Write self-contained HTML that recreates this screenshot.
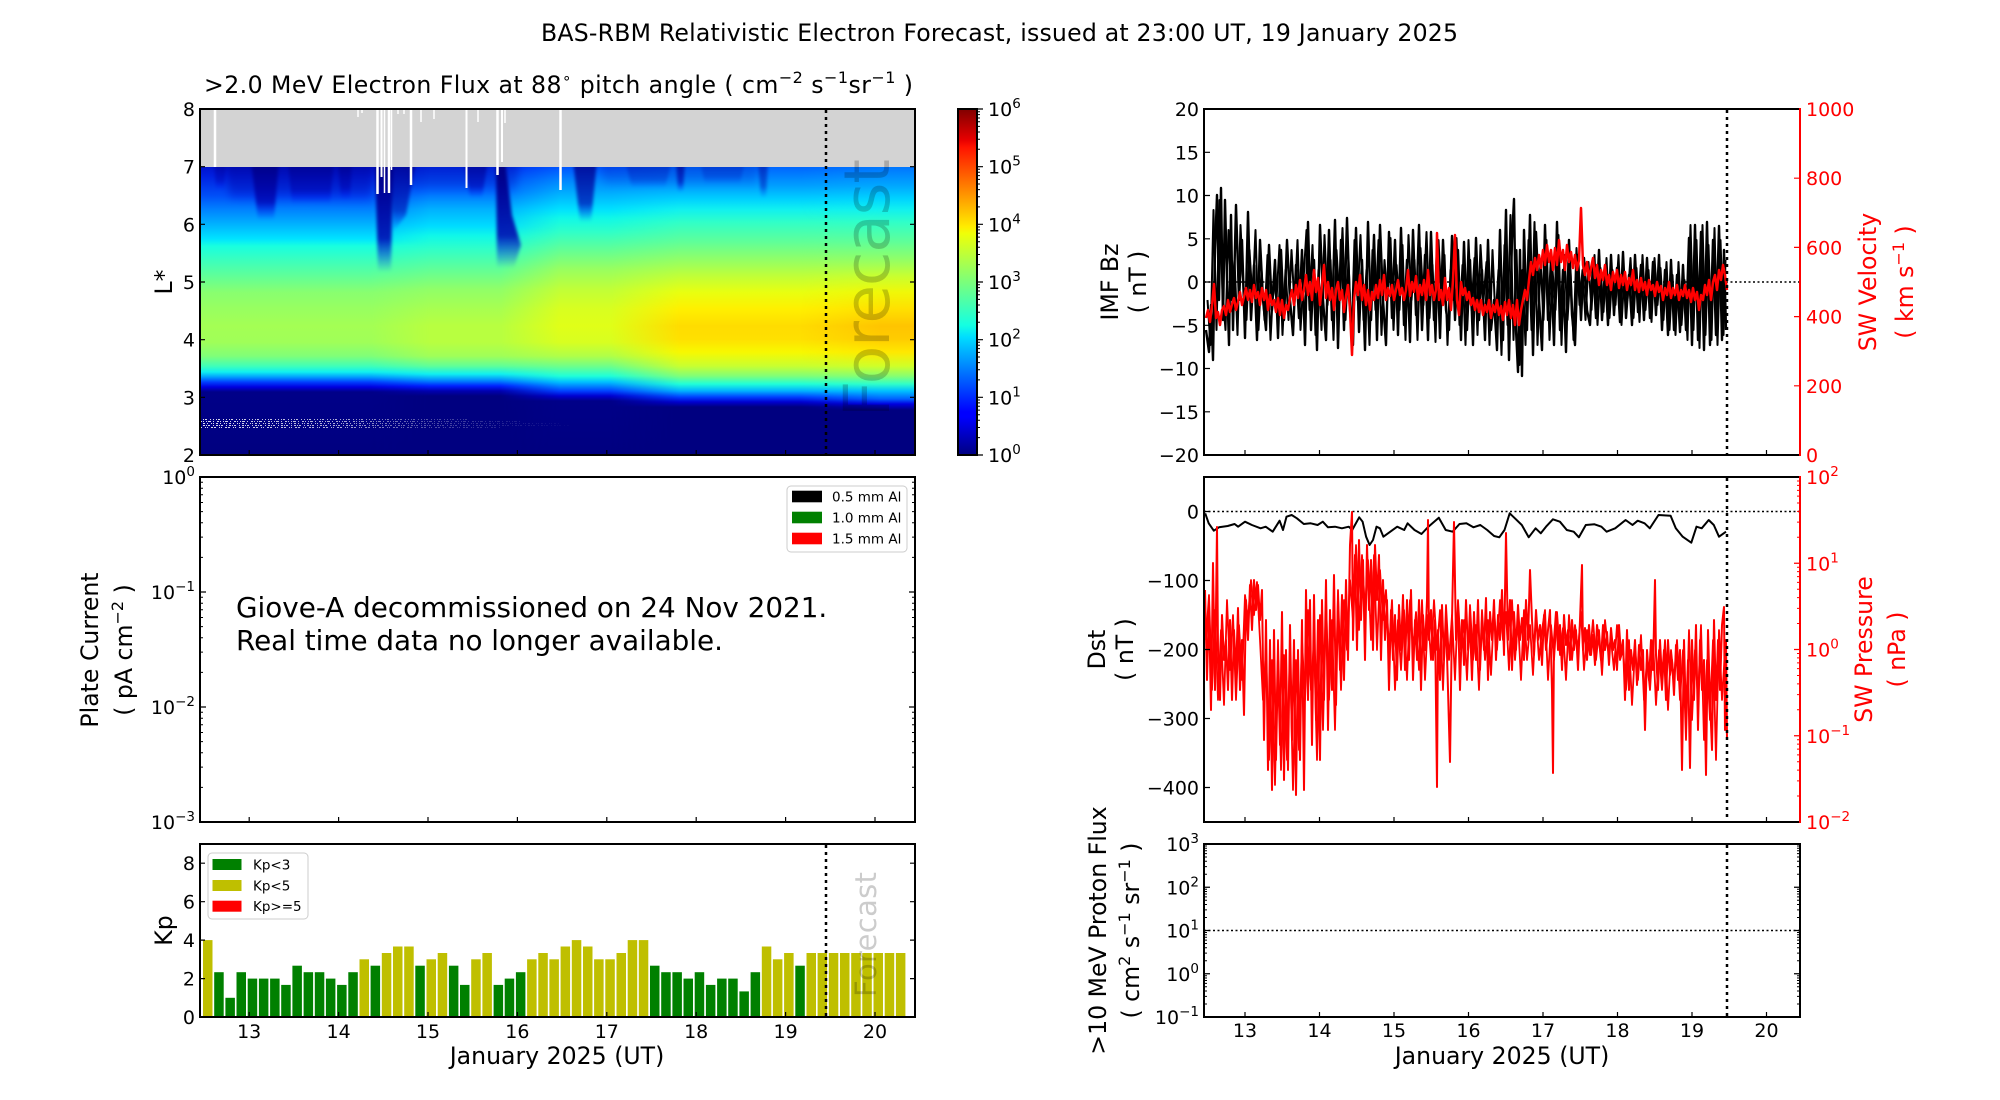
<!DOCTYPE html>
<html><head><meta charset="utf-8"><style>html,body{margin:0;padding:0;background:#fff}svg{display:block}</style></head>
<body>
<svg width="2000" height="1100" viewBox="0 0 2000 1100" xmlns="http://www.w3.org/2000/svg" font-family="DejaVu Sans, sans-serif">
<defs>
<clipPath id="cH"><rect x="200" y="109" width="715" height="346"/></clipPath>
<clipPath id="cBz"><rect x="1204" y="109" width="596" height="346"/></clipPath>
<clipPath id="cDst"><rect x="1204" y="477" width="596" height="345"/></clipPath>
<linearGradient id="pA" gradientUnits="userSpaceOnUse" x1="0" y1="168" x2="0" y2="455">
<stop offset="0" stop-color="#0014d0"/><stop offset="0.0279" stop-color="#0020e0"/><stop offset="0.0976" stop-color="#0050f8"/><stop offset="0.1429" stop-color="#0080ff"/><stop offset="0.2021" stop-color="#00b8ff"/><stop offset="0.2474" stop-color="#00e4ff"/><stop offset="0.2718" stop-color="#18ffe0"/><stop offset="0.3171" stop-color="#38ffc0"/><stop offset="0.3763" stop-color="#60ff98"/><stop offset="0.4321" stop-color="#88ff70"/><stop offset="0.4913" stop-color="#98ff60"/><stop offset="0.5505" stop-color="#a4ff54"/><stop offset="0.6063" stop-color="#a0ff58"/><stop offset="0.655" stop-color="#80ff78"/><stop offset="0.6899" stop-color="#40ffb8"/><stop offset="0.7108" stop-color="#10f0f0"/><stop offset="0.7282" stop-color="#00a0ff"/><stop offset="0.7456" stop-color="#0040ff"/><stop offset="0.7631" stop-color="#0000e0"/><stop offset="0.7805" stop-color="#000088"/><stop offset="1" stop-color="#000080"/>
</linearGradient>
<linearGradient id="pB" gradientUnits="userSpaceOnUse" x1="0" y1="168" x2="0" y2="455">
<stop offset="0" stop-color="#0030f0"/><stop offset="0.0836" stop-color="#0070ff"/><stop offset="0.1429" stop-color="#00b0ff"/><stop offset="0.2021" stop-color="#00dcff"/><stop offset="0.2369" stop-color="#10f8e8"/><stop offset="0.2822" stop-color="#30ffc8"/><stop offset="0.3519" stop-color="#60ff98"/><stop offset="0.4216" stop-color="#90ff68"/><stop offset="0.4913" stop-color="#a8ff50"/><stop offset="0.5505" stop-color="#b8ff40"/><stop offset="0.6063" stop-color="#b8ff40"/><stop offset="0.655" stop-color="#a0ff58"/><stop offset="0.6899" stop-color="#60ff98"/><stop offset="0.7178" stop-color="#10f0f0"/><stop offset="0.7422" stop-color="#0080ff"/><stop offset="0.7596" stop-color="#0020ff"/><stop offset="0.777" stop-color="#0000b0"/><stop offset="0.7944" stop-color="#000080"/><stop offset="1" stop-color="#000080"/>
</linearGradient>
<linearGradient id="pC" gradientUnits="userSpaceOnUse" x1="0" y1="168" x2="0" y2="455">
<stop offset="0" stop-color="#0058ff"/><stop offset="0.0453" stop-color="#0088ff"/><stop offset="0.108" stop-color="#00c0ff"/><stop offset="0.1429" stop-color="#00e0ff"/><stop offset="0.1742" stop-color="#10f8e8"/><stop offset="0.223" stop-color="#30ffc8"/><stop offset="0.2822" stop-color="#60ff98"/><stop offset="0.3519" stop-color="#98ff60"/><stop offset="0.4216" stop-color="#c0ff38"/><stop offset="0.4913" stop-color="#d8ff20"/><stop offset="0.5505" stop-color="#e0ff18"/><stop offset="0.6063" stop-color="#d8ff20"/><stop offset="0.655" stop-color="#b0ff48"/><stop offset="0.6899" stop-color="#70ff88"/><stop offset="0.7247" stop-color="#20ffd8"/><stop offset="0.7456" stop-color="#00c0ff"/><stop offset="0.777" stop-color="#0040ff"/><stop offset="0.7944" stop-color="#0000d0"/><stop offset="0.8118" stop-color="#000088"/><stop offset="1" stop-color="#000080"/>
</linearGradient>
<linearGradient id="pD" gradientUnits="userSpaceOnUse" x1="0" y1="168" x2="0" y2="455">
<stop offset="0" stop-color="#0068ff"/><stop offset="0.0627" stop-color="#00a0ff"/><stop offset="0.108" stop-color="#00d0ff"/><stop offset="0.1429" stop-color="#10f0f0"/><stop offset="0.1882" stop-color="#30ffc8"/><stop offset="0.2578" stop-color="#60ff98"/><stop offset="0.3171" stop-color="#90ff68"/><stop offset="0.3763" stop-color="#c0ff38"/><stop offset="0.4321" stop-color="#e8ff10"/><stop offset="0.4913" stop-color="#fff000"/><stop offset="0.5505" stop-color="#ffdc00"/><stop offset="0.5958" stop-color="#ffe000"/><stop offset="0.6411" stop-color="#f8f800"/><stop offset="0.6899" stop-color="#c8ff30"/><stop offset="0.7247" stop-color="#80ff78"/><stop offset="0.7526" stop-color="#20ffd8"/><stop offset="0.777" stop-color="#00b0ff"/><stop offset="0.7979" stop-color="#0040ff"/><stop offset="0.8153" stop-color="#0000d0"/><stop offset="0.8328" stop-color="#000080"/><stop offset="1" stop-color="#000080"/>
</linearGradient>
<linearGradient id="pE" gradientUnits="userSpaceOnUse" x1="0" y1="168" x2="0" y2="455">
<stop offset="0" stop-color="#0078ff"/><stop offset="0.0627" stop-color="#00a8ff"/><stop offset="0.108" stop-color="#00d4ff"/><stop offset="0.1429" stop-color="#10f0f0"/><stop offset="0.1882" stop-color="#30ffc8"/><stop offset="0.2578" stop-color="#60ff98"/><stop offset="0.3171" stop-color="#90ff68"/><stop offset="0.3763" stop-color="#c8ff30"/><stop offset="0.4321" stop-color="#f0f808"/><stop offset="0.4913" stop-color="#ffe000"/><stop offset="0.5505" stop-color="#ffc400"/><stop offset="0.5958" stop-color="#ffcc00"/><stop offset="0.6411" stop-color="#ffe800"/><stop offset="0.6899" stop-color="#d0ff28"/><stop offset="0.7247" stop-color="#88ff70"/><stop offset="0.7526" stop-color="#30ffc8"/><stop offset="0.777" stop-color="#00c0ff"/><stop offset="0.805" stop-color="#0060ff"/><stop offset="0.8223" stop-color="#0000e0"/><stop offset="0.8432" stop-color="#000080"/><stop offset="1" stop-color="#000080"/>
</linearGradient>
<linearGradient id="fB" gradientUnits="userSpaceOnUse" x1="370" y1="0" x2="430" y2="0"><stop offset="0" stop-color="#000"/><stop offset="1" stop-color="#fff"/></linearGradient>
<linearGradient id="fC" gradientUnits="userSpaceOnUse" x1="500" y1="0" x2="560" y2="0"><stop offset="0" stop-color="#000"/><stop offset="1" stop-color="#fff"/></linearGradient>
<linearGradient id="fD" gradientUnits="userSpaceOnUse" x1="610" y1="0" x2="680" y2="0"><stop offset="0" stop-color="#000"/><stop offset="1" stop-color="#fff"/></linearGradient>
<linearGradient id="fE" gradientUnits="userSpaceOnUse" x1="800" y1="0" x2="880" y2="0"><stop offset="0" stop-color="#000"/><stop offset="1" stop-color="#fff"/></linearGradient>
<linearGradient id="fS" gradientUnits="userSpaceOnUse" x1="200" y1="0" x2="580" y2="0"><stop offset="0" stop-color="#ddd"/><stop offset="0.37" stop-color="#aaa"/><stop offset="0.58" stop-color="#555"/><stop offset="0.8" stop-color="#222"/><stop offset="1" stop-color="#000"/></linearGradient>
<mask id="mB" maskUnits="userSpaceOnUse" x="0" y="0" width="2000" height="1100"><rect x="190" y="100" width="740" height="370" fill="url(#fB)"/></mask>
<mask id="mC" maskUnits="userSpaceOnUse" x="0" y="0" width="2000" height="1100"><rect x="190" y="100" width="740" height="370" fill="url(#fC)"/></mask>
<mask id="mD" maskUnits="userSpaceOnUse" x="0" y="0" width="2000" height="1100"><rect x="190" y="100" width="740" height="370" fill="url(#fD)"/></mask>
<mask id="mE" maskUnits="userSpaceOnUse" x="0" y="0" width="2000" height="1100"><rect x="190" y="100" width="740" height="370" fill="url(#fE)"/></mask>
<mask id="mS" maskUnits="userSpaceOnUse" x="0" y="0" width="2000" height="1100"><rect x="190" y="400" width="400" height="40" fill="url(#fS)"/></mask>
<linearGradient id="sg" x1="0" y1="0" x2="0" y2="1"><stop offset="0" stop-color="#000080"/><stop offset="0.7" stop-color="#0000b0" stop-opacity="0.85"/><stop offset="1" stop-color="#0000ff" stop-opacity="0"/></linearGradient>
<filter id="bl" x="-50%" y="-20%" width="200%" height="140%"><feGaussianBlur stdDeviation="1.6"/></filter>
<filter id="bl2" x="-50%" y="-20%" width="200%" height="140%"><feGaussianBlur stdDeviation="4"/></filter>
<linearGradient id="jet" x1="0" y1="1" x2="0" y2="0">
<stop offset="0" stop-color="#000080"/><stop offset="0.11" stop-color="#0000ff"/><stop offset="0.125" stop-color="#0000ff"/><stop offset="0.34" stop-color="#00dcff"/><stop offset="0.375" stop-color="#14ffe2"/><stop offset="0.5" stop-color="#7bff7b"/><stop offset="0.64" stop-color="#efff08"/><stop offset="0.66" stop-color="#ffec00"/><stop offset="0.89" stop-color="#ff1300"/><stop offset="0.91" stop-color="#e80000"/><stop offset="1" stop-color="#800000"/>
</linearGradient>
<path id="xtL" d="M249.2,0v-5M338.6,0v-5M428,0v-5M517.4,0v-5M606.8,0v-5M696.2,0v-5M785.6,0v-5M875,0v-5"/>
<path id="xtR" d="M1245,0v-5M1319.5,0v-5M1394,0v-5M1468.5,0v-5M1543,0v-5M1617.5,0v-5M1692,0v-5M1766.5,0v-5"/>
<path id="mPl" d="M0,-34.6h3M0,-54.9h3M0,-69.2h3M0,-80.4h3M0,-89.5h3M0,-97.2h3M0,-103.8h3M0,-109.7h3"/>
<path id="mCb" d="M0,-17.4h3M0,-27.5h3M0,-34.7h3M0,-40.3h3M0,-44.9h3M0,-48.7h3M0,-52.1h3M0,-55h3"/>
<path id="mPr" d="M0,-26h3M0,-41.1h3M0,-51.9h3M0,-60.3h3M0,-67.1h3M0,-72.9h3M0,-77.9h3M0,-82.3h3"/>
<path id="mPt" d="M0,-13h3M0,-20.6h3M0,-26h3M0,-30.2h3M0,-33.6h3M0,-36.5h3M0,-39h3M0,-41.3h3"/>
</defs>

<!-- Titles -->
<text x="541" y="41" font-size="23.6" textLength="917">BAS-RBM Relativistic Electron Forecast, issued at 23:00 UT, 19 January 2025</text>
<text x="204" y="93" font-size="23.6" textLength="709">&gt;2.0 MeV Electron Flux at 88<tspan dy="-10" font-size="15">∘</tspan><tspan dy="10"> pitch angle ( cm</tspan><tspan dy="-10" font-size="16">−2</tspan><tspan dy="10"> s</tspan><tspan dy="-10" font-size="16">−1</tspan><tspan dy="10">sr</tspan><tspan dy="-10" font-size="16">−1</tspan><tspan dy="10"> )</tspan></text>

<!-- Heatmap -->
<g clip-path="url(#cH)">
<rect x="200" y="160" width="715" height="295" fill="url(#pA)"/>
<rect x="200" y="160" width="715" height="295" fill="url(#pB)" mask="url(#mB)"/>
<rect x="200" y="160" width="715" height="295" fill="url(#pC)" mask="url(#mC)"/>
<rect x="200" y="160" width="715" height="295" fill="url(#pD)" mask="url(#mD)"/>
<rect x="200" y="160" width="715" height="295" fill="url(#pE)" mask="url(#mE)"/>
<g filter="url(#bl2)" fill="url(#sg)">
<polygon points="225,160 375,160 370,205 230,200" opacity="0.45"/>
<polygon points="405,160 520,160 515,195 410,195" opacity="0.3"/>
<polygon points="600,160 760,160 755,188 605,188" opacity="0.2"/>
</g>
<g filter="url(#bl)" fill="url(#sg)">
<polygon points="251,160 279,160 274,220 258,220" opacity="0.9"/>
<polygon points="288,160 334,160 330,204 292,204" opacity="0.6"/>
<polygon points="338,160 352,160 350,200 341,200" opacity="0.6"/>
<polygon points="214,160 226,160 224,190 216,190" opacity="0.5"/>
<polygon points="375,160 393,160 391,272 378,272"/>
<polygon points="392,160 416,160 406,215 393,232" opacity="0.7"/>
<polygon points="496,160 505,160 512,215 521,245 514,268 497,268"/>
<polygon points="464,160 488,160 482,198 470,198" opacity="0.65"/>
<polygon points="573,160 597,160 591,222 580,222" opacity="0.8"/>
<polygon points="676,160 685,160 683,192 678,192" opacity="0.7"/>
<polygon points="625,160 672,160 665,188 632,188" opacity="0.3"/>
<polygon points="758,160 768,160 766,198 761,198" opacity="0.5"/>
<polygon points="700,160 745,160 740,184 705,184" opacity="0.25"/>
</g>
<rect x="200" y="109" width="715" height="58" fill="#d3d3d3"/>
<g stroke="#fff" stroke-width="1" mask="url(#mS)">
<path d="M200,419.5H470" stroke-dasharray="1 2 1 1 2 3 1 2"/>
<path d="M200,421.5H520" stroke-dasharray="2 1 1 2 1 1 3 2 1 3"/>
<path d="M200,423.5H560" stroke-dasharray="1 2 2 2 1 3 1 1"/>
<path d="M200,425.5H570" stroke-dasharray="1 2 2 1 1 1 2 3"/>
<path d="M200,427.5H500" stroke-dasharray="2 3 1 1 1 3 2 1"/>
</g>
<g stroke="#fff">
<path d="M215,109V167" stroke-width="2.5"/>
<path d="M358,109V117M362,109V113M398,109V114M404,109V114M421,109V122M434,109V119M478,109V122M505,109V123" stroke-width="1.5"/>
<path d="M377.5,109V194M389,109V193M411,109V185M497.5,109V175M560.5,109V190" stroke-width="2.5"/>
<path d="M381.5,109V177M466.5,109V188M502,109V162" stroke-width="2"/>
<path d="M384.5,109V193M391.5,109V170" stroke-width="1.5"/>
</g>
<text transform="translate(889,417) rotate(-90)" font-size="63" fill="#000" fill-opacity="0.2" textLength="258">Forecast</text>
<path d="M826,110V455" stroke="#000" stroke-width="2.5" stroke-dasharray="3 4"/>
</g>
<rect x="200" y="109" width="715" height="346" fill="none" stroke="#000" stroke-width="2"/>
<path d="M200,397.3h5M200,339.7h5M200,282h5M200,224.3h5M200,166.7h5M915,397.3h-5M915,339.7h-5M915,282h-5M915,224.3h-5M915,166.7h-5" stroke="#000" stroke-width="1.2"/>
<use href="#xtL" y="455" stroke="#000" stroke-width="1.2"/>
<g font-size="19" text-anchor="end">
<text x="195" y="116">8</text><text x="195" y="173.7">7</text><text x="195" y="231.3">6</text><text x="195" y="289">5</text><text x="195" y="346.7">4</text><text x="195" y="404.3">3</text><text x="195" y="462">2</text>
</g>
<text transform="translate(172,282) rotate(-90)" text-anchor="middle" font-size="23.6">L*</text>

<!-- Colorbar -->
<rect x="958" y="109" width="19" height="346" fill="url(#jet)" stroke="#000" stroke-width="2"/>
<path d="M977,455h6M977,397.3h6M977,339.7h6M977,282h6M977,224.3h6M977,166.7h6M977,109h6" stroke="#000" stroke-width="1.2"/>
<g stroke="#000" stroke-width="1">
<use href="#mCb" x="977" y="455"/><use href="#mCb" x="977" y="397.3"/><use href="#mCb" x="977" y="339.7"/><use href="#mCb" x="977" y="282"/><use href="#mCb" x="977" y="224.3"/><use href="#mCb" x="977" y="166.7"/>
</g>
<g font-size="19">
<text x="988" y="116">10<tspan dy="-8" font-size="13.5">6</tspan></text>
<text x="988" y="173.7">10<tspan dy="-8" font-size="13.5">5</tspan></text>
<text x="988" y="231.3">10<tspan dy="-8" font-size="13.5">4</tspan></text>
<text x="988" y="289">10<tspan dy="-8" font-size="13.5">3</tspan></text>
<text x="988" y="346.7">10<tspan dy="-8" font-size="13.5">2</tspan></text>
<text x="988" y="404.3">10<tspan dy="-8" font-size="13.5">1</tspan></text>
<text x="988" y="462">10<tspan dy="-8" font-size="13.5">0</tspan></text>
</g>

<!-- Plate current -->
<rect x="200" y="477" width="715" height="345" fill="none" stroke="#000" stroke-width="2"/>
<path d="M200,592h6M200,707h6M915,592h-6M915,707h-6" stroke="#000" stroke-width="1.2"/>
<g stroke="#000" stroke-width="1">
<use href="#mPl" x="200" y="822"/><use href="#mPl" x="200" y="707"/><use href="#mPl" x="200" y="592"/>
<use href="#mPl" transform="translate(915,822) scale(-1,1)"/><use href="#mPl" transform="translate(915,707) scale(-1,1)"/><use href="#mPl" transform="translate(915,592) scale(-1,1)"/>
</g>
<use href="#xtL" y="822" stroke="#000" stroke-width="1.2"/>
<g font-size="19" text-anchor="end">
<text x="195" y="484">10<tspan dy="-8" font-size="13.5">0</tspan></text>
<text x="195" y="599">10<tspan dy="-8" font-size="13.5">−1</tspan></text>
<text x="195" y="714">10<tspan dy="-8" font-size="13.5">−2</tspan></text>
<text x="195" y="829">10<tspan dy="-8" font-size="13.5">−3</tspan></text>
</g>
<text transform="translate(98,650) rotate(-90)" text-anchor="middle" font-size="23.6">Plate Current</text>
<text transform="translate(132,650) rotate(-90)" text-anchor="middle" font-size="23.6">( pA cm<tspan dy="-9" font-size="16">−2</tspan><tspan dy="9"> )</tspan></text>
<text x="236" y="617" font-size="27.8">Giove-A decommissioned on 24 Nov 2021.</text>
<text x="236" y="650" font-size="27.8">Real time data no longer available.</text>
<rect x="787" y="486" width="120" height="66" rx="4" fill="#fff" stroke="#ccc" stroke-width="1"/>
<rect x="792" y="490.7" width="30" height="11.6" fill="#000"/>
<rect x="792" y="511.7" width="30" height="11.6" fill="#008000"/>
<rect x="792" y="532.7" width="30" height="11.6" fill="#ff0000"/>
<g font-size="13.5"><text x="832" y="501.5">0.5 mm Al</text><text x="832" y="522.5">1.0 mm Al</text><text x="832" y="543.5">1.5 mm Al</text></g>

<!-- Kp -->
<g fill="#bfbf00">
<rect x="203" y="940.1" width="9.5" height="76.9"/>
<rect x="359.5" y="959.3" width="9.5" height="57.7"/>
<rect x="381.8" y="953" width="9.5" height="64"/>
<rect x="393" y="946.5" width="9.5" height="70.5"/>
<rect x="404.2" y="946.5" width="9.5" height="70.5"/>
<rect x="426.5" y="959.3" width="9.5" height="57.7"/>
<rect x="437.7" y="953" width="9.5" height="64"/>
<rect x="471.2" y="959.3" width="9.5" height="57.7"/>
<rect x="482.4" y="953" width="9.5" height="64"/>
<rect x="527.1" y="959.3" width="9.5" height="57.7"/>
<rect x="538.3" y="953" width="9.5" height="64"/>
<rect x="549.4" y="959.3" width="9.5" height="57.7"/>
<rect x="560.6" y="946.5" width="9.5" height="70.5"/>
<rect x="571.8" y="940.1" width="9.5" height="76.9"/>
<rect x="583" y="946.5" width="9.5" height="70.5"/>
<rect x="594.1" y="959.3" width="9.5" height="57.7"/>
<rect x="605.3" y="959.3" width="9.5" height="57.7"/>
<rect x="616.5" y="953" width="9.5" height="64"/>
<rect x="627.7" y="940.1" width="9.5" height="76.9"/>
<rect x="638.8" y="940.1" width="9.5" height="76.9"/>
<rect x="761.8" y="946.5" width="9.5" height="70.5"/>
<rect x="772.9" y="959.3" width="9.5" height="57.7"/>
<rect x="784.1" y="953" width="9.5" height="64"/>
<rect x="806.5" y="953" width="9.5" height="64"/>
<rect x="817.6" y="953" width="9.5" height="64"/>
<rect x="828.8" y="953" width="9.5" height="64"/>
<rect x="840" y="953" width="9.5" height="64"/>
<rect x="851.2" y="953" width="9.5" height="64"/>
<rect x="862.3" y="953" width="9.5" height="64"/>
<rect x="873.5" y="953" width="9.5" height="64"/>
<rect x="884.7" y="953" width="9.5" height="64"/>
<rect x="895.9" y="953" width="9.5" height="64"/>
</g>
<g fill="#008000">
<rect x="214.2" y="972.2" width="9.5" height="44.8"/>
<rect x="225.4" y="997.8" width="9.5" height="19.2"/>
<rect x="236.5" y="972.2" width="9.5" height="44.8"/>
<rect x="247.7" y="978.6" width="9.5" height="38.4"/>
<rect x="258.9" y="978.6" width="9.5" height="38.4"/>
<rect x="270.1" y="978.6" width="9.5" height="38.4"/>
<rect x="281.2" y="984.9" width="9.5" height="32.1"/>
<rect x="292.4" y="965.7" width="9.5" height="51.3"/>
<rect x="303.6" y="972.2" width="9.5" height="44.8"/>
<rect x="314.8" y="972.2" width="9.5" height="44.8"/>
<rect x="325.9" y="978.6" width="9.5" height="38.4"/>
<rect x="337.1" y="984.9" width="9.5" height="32.1"/>
<rect x="348.3" y="972.2" width="9.5" height="44.8"/>
<rect x="370.6" y="965.7" width="9.5" height="51.3"/>
<rect x="415.3" y="965.7" width="9.5" height="51.3"/>
<rect x="448.9" y="965.7" width="9.5" height="51.3"/>
<rect x="460" y="984.9" width="9.5" height="32.1"/>
<rect x="493.6" y="984.9" width="9.5" height="32.1"/>
<rect x="504.7" y="978.6" width="9.5" height="38.4"/>
<rect x="515.9" y="972.2" width="9.5" height="44.8"/>
<rect x="650" y="965.7" width="9.5" height="51.3"/>
<rect x="661.2" y="972.2" width="9.5" height="44.8"/>
<rect x="672.4" y="972.2" width="9.5" height="44.8"/>
<rect x="683.5" y="978.6" width="9.5" height="38.4"/>
<rect x="694.7" y="972.2" width="9.5" height="44.8"/>
<rect x="705.9" y="984.9" width="9.5" height="32.1"/>
<rect x="717.1" y="978.6" width="9.5" height="38.4"/>
<rect x="728.2" y="978.6" width="9.5" height="38.4"/>
<rect x="739.4" y="991.4" width="9.5" height="25.6"/>
<rect x="750.6" y="972.2" width="9.5" height="44.8"/>
<rect x="795.3" y="965.7" width="9.5" height="51.3"/>
</g>
<text transform="translate(876,997) rotate(-90)" font-size="29" fill="#000" fill-opacity="0.2" textLength="125">Forecast</text>
<path d="M826,845V1017" stroke="#000" stroke-width="2.5" stroke-dasharray="3 4"/>
<rect x="208" y="853" width="100" height="66" rx="4" fill="#fff" fill-opacity="0.85" stroke="#ccc" stroke-width="1"/>
<rect x="212.5" y="859" width="29" height="11" fill="#008000"/>
<rect x="212.5" y="880" width="29" height="11" fill="#bfbf00"/>
<rect x="212.5" y="900.7" width="29" height="11" fill="#ff0000"/>
<g font-size="13.5"><text x="253" y="869.5">Kp&lt;3</text><text x="253" y="890.5">Kp&lt;5</text><text x="253" y="911">Kp&gt;=5</text></g>
<rect x="200" y="844" width="715" height="173" fill="none" stroke="#000" stroke-width="2"/>
<path d="M200,978.6h5M200,940.1h5M200,901.7h5M200,863.2h5M915,978.6h-5M915,940.1h-5M915,901.7h-5M915,863.2h-5" stroke="#000" stroke-width="1.2"/>
<use href="#xtL" y="1017" stroke="#000" stroke-width="1.2"/>
<g font-size="19" text-anchor="end">
<text x="195" y="1024">0</text><text x="195" y="985.6">2</text><text x="195" y="947.1">4</text><text x="195" y="908.7">6</text><text x="195" y="870.2">8</text>
</g>
<text transform="translate(172,930.5) rotate(-90)" text-anchor="middle" font-size="23.6">Kp</text>
<g font-size="19" text-anchor="middle">
<text x="249.2" y="1038">13</text><text x="338.6" y="1038">14</text><text x="428" y="1038">15</text><text x="517.4" y="1038">16</text><text x="606.8" y="1038">17</text><text x="696.2" y="1038">18</text><text x="785.6" y="1038">19</text><text x="875" y="1038">20</text>
</g>
<text x="557" y="1064" font-size="23.6" text-anchor="middle">January 2025 (UT)</text>

<!-- IMF Bz / SW velocity -->
<path d="M1204,282H1800" stroke="#000" stroke-width="1.6" stroke-dasharray="2 2.5"/>
<g clip-path="url(#cBz)">
<polyline fill="none" stroke="#000" stroke-width="2.4" stroke-linejoin="round" points="1206,330 1209,352 1211,305 1213,360 1215,250 1217,195 1219,300 1221,188 1223,320 1225,200 1227,280 1229,345 1231,215 1233,330 1236,205 1239,300 1242,240 1245,338 1248,212 1251,320 1254,265 1257,340 1260,240 1263,300 1266,330 1269,245 1272,310 1275,260 1278,338 1281,250 1284,320 1287,240 1290,300 1293,335 1296,265 1299,318 1302,250 1305,345 1308,222 1311,330 1314,260 1317,350 1320,225 1323,300 1326,340 1329,230 1332,320 1335,220 1338,348 1341,240 1344,330 1347,218 1350,310 1353,345 1356,228 1359,332 1362,260 1365,350 1368,222 1371,320 1374,235 1377,340 1380,225 1383,300 1386,345 1389,232 1392,318 1395,240 1398,335 1401,228 1404,325 1407,260 1410,342 1413,230 1416,315 1419,225 1422,330 1425,255 1428,340 1431,232 1434,320 1437,250 1440,338 1443,240 1446,310 1449,330 1452,236 1455,320 1458,250 1461,340 1464,242 1467,330 1470,260 1473,345 1476,238 1479,320 1482,270 1485,340 1488,240 1491,330 1494,300 1497,350 1500,230 1503,340 1506,210 1509,360 1512,240 1514,199 1516,330 1518,372 1520,250 1522,376 1524,230 1527,330 1530,215 1533,355 1536,232 1539,300 1542,350 1545,225 1548,320 1551,260 1554,345 1557,222 1560,330 1563,270 1566,352 1569,240 1572,315 1575,345 1578,255 1581,320 1584,258 1587,310 1590,325 1593,262 1596,318 1599,250 1602,320 1605,270 1608,325 1611,255 1614,315 1617,268 1620,322 1623,252 1626,318 1629,275 1632,325 1635,255 1638,312 1641,265 1644,320 1647,258 1650,318 1653,262 1656,315 1659,255 1662,330 1665,270 1668,335 1671,260 1674,330 1677,275 1680,332 1683,265 1686,330 1689,238 1692,345 1695,225 1698,340 1701,232 1704,350 1707,222 1710,345 1713,240 1716,335 1719,226 1722,340 1724,250 1726,330"/>
<polyline fill="none" stroke="#000" stroke-width="2" stroke-linejoin="round" points="1207.5,300 1210.5,345 1213.5,210 1216.5,330 1219.5,200 1222.5,290 1225.5,330 1228.5,230 1231.5,300 1234.5,260 1237.5,335 1240.5,225 1243.5,290 1246.5,320 1249.5,250 1252.5,300 1255.5,230 1258.5,330 1261.5,270 1264.5,320 1267.5,255 1270.5,340 1273.5,280 1276.5,300 1279.5,245 1282.5,335 1285.5,270 1288.5,320 1291.5,250 1294.5,305 1297.5,240 1300.5,330 1303.5,280 1306.5,230 1309.5,310 1312.5,245 1315.5,335 1318.5,270 1321.5,330 1324.5,235 1327.5,305 1330.5,260 1333.5,340 1336.5,250 1339.5,300 1342.5,228 1345.5,320 1348.5,260 1351.5,340 1354.5,240 1357.5,300 1360.5,235 1363.5,320 1366.5,270 1369.5,345 1372.5,250 1375.5,310 1378.5,240 1381.5,335 1384.5,260 1387.5,300 1390.5,238 1393.5,330 1396.5,265 1399.5,310 1402.5,245 1405.5,340 1408.5,235 1411.5,300 1414.5,260 1417.5,340 1420.5,248 1423.5,305 1426.5,232 1429.5,318 1432.5,265 1435.5,342 1438.5,240 1441.5,300 1444.5,255 1447.5,345 1450.5,270 1453.5,300 1456.5,238 1459.5,325 1462.5,265 1465.5,345 1468.5,240 1471.5,310 1474.5,258 1477.5,335 1480.5,245 1483.5,300 1486.5,262 1489.5,345 1492.5,250 1495.5,320 1498.5,270 1501.5,355 1504.5,245 1507.5,325 1510.5,215 1513.5,340 1516.5,250 1519.5,365 1522.5,270 1525.5,345 1528.5,240 1531.5,330 1534.5,222 1537.5,345 1540.5,260 1543.5,320 1546.5,240 1549.5,340 1552.5,270 1555.5,310 1558.5,235 1561.5,345 1564.5,255 1567.5,320 1570.5,270 1573.5,340 1576.5,248 1579.5,305 1582.5,270 1585.5,320 1588.5,262 1591.5,310 1594.5,255 1597.5,325 1600.5,268 1603.5,312 1606.5,258 1609.5,318 1612.5,270 1615.5,305 1618.5,255 1621.5,325 1624.5,272 1627.5,300 1630.5,258 1633.5,318 1636.5,268 1639.5,322 1642.5,255 1645.5,310 1648.5,270 1651.5,322 1654.5,258 1657.5,305 1660.5,268 1663.5,320 1666.5,262 1669.5,330 1672.5,275 1675.5,335 1678.5,262 1681.5,325 1684.5,280 1687.5,340 1690.5,225 1693.5,330 1696.5,240 1699.5,348 1702.5,225 1705.5,335 1708.5,245 1711.5,340 1714.5,228 1717.5,345 1720.5,240 1723.5,335 1725.5,260"/>
<polyline fill="none" stroke="#ff0000" stroke-width="2.5" stroke-linejoin="round" points="1206,318 1208,310 1210,322 1212,305 1214,284 1216,318 1218,312 1220,325 1222,310 1224,306 1226,315 1228,300 1230,312 1232,304 1234,298 1236,310 1238,302 1240,292 1242,305 1244,297 1246,288 1248,300 1250,290 1252,302 1254,285 1256,298 1258,292 1260,305 1262,288 1264,300 1266,290 1268,310 1270,295 1272,305 1274,300 1276,312 1278,298 1280,315 1282,300 1284,318 1286,305 1288,310 1290,298 1292,290 1294,305 1296,285 1298,298 1300,280 1302,300 1304,290 1306,275 1308,295 1310,282 1312,300 1314,270 1316,292 1318,278 1320,305 1322,285 1324,265 1326,298 1328,282 1330,300 1332,288 1334,310 1336,290 1338,282 1340,300 1342,290 1344,312 1346,296 1348,285 1350,310 1352,355 1354,300 1356,282 1358,295 1360,275 1362,300 1364,285 1366,305 1368,290 1370,310 1372,292 1374,300 1376,285 1378,298 1380,280 1382,295 1384,275 1386,300 1388,288 1390,296 1392,285 1394,300 1396,290 1398,280 1400,295 1402,288 1404,300 1406,290 1408,270 1410,296 1412,282 1414,292 1416,276 1418,300 1420,285 1422,295 1424,280 1426,300 1428,270 1430,295 1432,285 1434,300 1436,290 1437,233 1439,300 1441,290 1443,305 1445,278 1447,300 1449,288 1451,310 1453,280 1455,235 1457,300 1459,315 1461,282 1463,295 1465,288 1467,300 1469,292 1471,305 1473,298 1475,310 1477,300 1479,312 1481,300 1483,315 1485,305 1487,312 1489,300 1491,318 1493,305 1495,312 1497,300 1499,315 1501,306 1503,320 1505,302 1507,315 1509,300 1511,318 1513,305 1515,325 1517,300 1519,325 1521,310 1523,300 1525,290 1527,300 1529,280 1531,262 1533,275 1535,258 1537,270 1539,255 1541,268 1543,250 1545,265 1547,245 1549,262 1551,250 1553,270 1555,248 1557,265 1559,240 1561,262 1563,250 1565,270 1567,245 1569,262 1571,252 1573,268 1575,255 1577,270 1579,260 1581,208 1583,265 1585,275 1587,262 1589,280 1591,268 1593,258 1595,278 1597,265 1599,285 1601,270 1603,280 1605,265 1607,285 1609,275 1611,290 1613,272 1615,282 1617,270 1619,288 1621,275 1623,285 1625,272 1627,290 1629,278 1631,285 1633,270 1635,290 1637,280 1639,292 1641,278 1643,290 1645,282 1647,295 1649,280 1651,290 1653,285 1655,296 1657,282 1659,292 1661,286 1663,300 1665,288 1667,295 1669,282 1671,298 1673,288 1675,295 1677,285 1679,300 1681,290 1683,296 1685,285 1687,298 1689,290 1691,302 1693,288 1695,300 1697,292 1699,310 1701,295 1703,300 1705,285 1707,295 1709,280 1711,300 1713,282 1715,275 1717,290 1719,270 1721,280 1723,265 1725,275 1727,290"/>
</g>
<path d="M1727,110V455" stroke="#000" stroke-width="2.5" stroke-dasharray="3 4"/>
<path d="M1204,109H1800M1204,455H1800M1204,108V456" fill="none" stroke="#000" stroke-width="2"/>
<path d="M1800,108V456" stroke="#ff0000" stroke-width="2"/>
<path d="M1204,152.3h6M1204,195.5h6M1204,238.8h6M1204,282h6M1204,325.3h6M1204,368.5h6M1204,411.8h6" stroke="#000" stroke-width="1.2"/>
<path d="M1800,178.2h-6M1800,247.4h-6M1800,316.6h-6M1800,385.8h-6" stroke="#ff0000" stroke-width="1.2"/>
<use href="#xtR" y="455" stroke="#000" stroke-width="1.2"/>
<g font-size="19" text-anchor="end">
<text x="1199" y="116">20</text><text x="1199" y="159.3">15</text><text x="1199" y="202.5">10</text><text x="1199" y="245.8">5</text><text x="1199" y="289">0</text><text x="1199" y="332.3">−5</text><text x="1199" y="375.5">−10</text><text x="1199" y="418.8">−15</text><text x="1199" y="462">−20</text>
</g>
<g font-size="19" fill="#ff0000">
<text x="1806" y="116">1000</text><text x="1806" y="185.2">800</text><text x="1806" y="254.4">600</text><text x="1806" y="323.6">400</text><text x="1806" y="392.8">200</text><text x="1806" y="462">0</text>
</g>
<text transform="translate(1118,282) rotate(-90)" text-anchor="middle" font-size="23.6">IMF Bz</text>
<text transform="translate(1146,282) rotate(-90)" text-anchor="middle" font-size="23.6">( nT )</text>
<text transform="translate(1876,282) rotate(-90)" text-anchor="middle" font-size="23.6" fill="#ff0000">SW Velocity</text>
<text transform="translate(1913,282) rotate(-90)" text-anchor="middle" font-size="23.6" fill="#ff0000">( km s<tspan dy="-9" font-size="16">−1</tspan><tspan dy="9"> )</tspan></text>

<!-- Dst / Pressure -->
<path d="M1204,511.5H1800" stroke="#000" stroke-width="1.6" stroke-dasharray="2 2.5"/>
<g clip-path="url(#cDst)">
<polyline fill="none" stroke="#000" stroke-width="2" stroke-linejoin="round" points="1205.2,513.3 1208.7,523.3 1213.8,530.7 1219,527.3 1227.7,526 1234.6,524 1238.1,526.7 1245,521.7 1251.9,525 1260.6,528.3 1265.7,526.7 1272.7,531.7 1279.6,520.7 1283,530 1286.5,516.7 1291.7,515 1296.9,518.3 1303.8,524 1310.7,523.3 1317.6,525 1322.8,521.7 1328,527.3 1335,526.7 1341.9,528.3 1348.8,526.7 1352.2,530 1359.2,517.3 1362.6,521.7 1366.1,536.7 1369.6,545 1373,540 1376.5,526.7 1379.9,528.3 1383.4,536.7 1390.3,531.7 1397.2,526.7 1404.2,530 1407.6,523.3 1414.5,530 1421.5,534 1428.4,526.7 1438.8,517.7 1445.7,530 1452.6,531.7 1459.5,524 1466.4,523.3 1473.4,527.3 1480.3,525 1487.2,530 1494.1,536 1499.3,537.3 1504.5,530 1509.7,513.3 1514.9,518.3 1521.8,525 1528.7,537.3 1535.6,528.3 1540.8,533.3 1546,526.7 1552.9,519.3 1559.9,521.7 1566.8,530 1573.7,531.7 1578.9,537.3 1585.8,525 1594.5,524.3 1601.4,526.7 1606.6,531.7 1615.2,528.3 1625.6,520 1632.5,525 1637.7,520.7 1644.6,523.3 1649.8,528.3 1658.5,515 1670.6,515.7 1675.8,528.3 1682.7,536.7 1691.3,542.7 1696.5,526.7 1701.7,528.3 1708.7,520 1713.8,525 1719,536.7 1726,531.7"/>
<polyline fill="none" stroke="#ff0000" stroke-width="2" stroke-linejoin="round" points="1205,590 1207,680 1209,605 1211,710 1213,563 1215,690 1217,527 1218,650 1220,700 1222,615 1224,660 1226,640 1228,690 1230,620 1232,700 1234,630 1236,675 1238,608 1240,690 1242,640 1244,715 1246,600 1248,640 1250,585 1252,630 1254,580 1256,610 1258,585 1260,620 1262,590 1264,740 1266,620 1268,770 1270,640 1272,790 1274,630 1276,760 1278,660 1280,745 1282,612 1284,780 1286,650 1288,770 1290,625 1292,740 1294,640 1296,795 1298,650 1300,760 1302,620 1304,790 1306,590 1308,700 1310,600 1312,745 1314,595 1316,720 1318,620 1320,760 1322,600 1324,700 1326,580 1328,730 1330,610 1332,690 1334,575 1336,705 1338,600 1340,670 1342,595 1344,680 1346,580 1348,660 1350,545 1352,512 1353,640 1355,555 1357,650 1359,540 1361,620 1363,560 1365,660 1367,545 1369,610 1371,560 1373,650 1375,545 1377,600 1379,555 1381,660 1383,580 1385,640 1387,600 1389,690 1391,610 1393,660 1395,615 1397,680 1399,605 1401,650 1403,595 1405,670 1407,600 1409,660 1411,590 1413,680 1415,620 1417,660 1419,600 1421,690 1423,615 1425,650 1427,600 1428,520 1429,640 1431,610 1433,660 1435,620 1437,787 1438,630 1440,680 1442,605 1444,660 1446,620 1448,690 1450,762 1452,620 1454,522 1456,640 1458,610 1460,690 1462,620 1464,665 1466,600 1468,650 1470,625 1472,680 1474,612 1476,660 1478,600 1480,670 1482,620 1484,650 1486,598 1488,680 1490,612 1492,640 1494,600 1496,660 1498,615 1500,640 1502,590 1504,655 1506,533 1508,640 1510,600 1512,670 1514,612 1516,650 1518,605 1520,640 1522,618 1524,660 1526,600 1528,640 1530,570 1532,620 1534,655 1536,610 1538,640 1540,625 1542,665 1544,615 1546,650 1548,630 1550,610 1552,690 1553,773 1554,640 1556,612 1558,650 1560,625 1562,670 1564,615 1566,645 1568,630 1570,660 1572,620 1574,650 1576,630 1578,670 1580,620 1582,565 1583,650 1585,628 1587,660 1589,625 1591,655 1593,635 1595,665 1597,625 1599,640 1601,660 1603,625 1605,650 1607,632 1609,665 1611,628 1613,650 1615,640 1617,670 1619,625 1621,655 1623,640 1625,700 1627,630 1629,690 1631,650 1633,670 1635,640 1637,685 1639,645 1641,670 1643,650 1645,730 1647,650 1649,680 1651,640 1653,670 1655,580 1656,655 1658,690 1660,640 1662,680 1664,650 1666,700 1668,640 1670,675 1672,660 1674,695 1676,645 1678,680 1680,650 1682,770 1684,640 1686,720 1688,660 1690,768 1692,640 1694,700 1696,625 1698,730 1700,640 1702,690 1704,660 1706,775 1708,630 1710,700 1712,750 1714,620 1716,700 1718,640 1720,690 1722,625 1724,607 1725,730 1726,640 1727,740"/>
<polyline fill="none" stroke="#ff0000" stroke-width="1.8" stroke-linejoin="round" points="1206,640 1209,595 1212,690 1215,610 1218,700 1221,630 1224,705 1227,600 1230,670 1233,615 1236,700 1239,625 1242,680 1245,595 1248,620 1251,580 1254,615 1257,582 1260,640 1263,700 1266,650 1269,760 1272,660 1275,785 1278,640 1281,770 1284,655 1287,760 1290,650 1293,790 1296,660 1299,750 1302,640 1305,700 1308,610 1311,690 1314,640 1317,760 1320,615 1323,730 1326,600 1329,700 1332,620 1335,730 1338,590 1341,690 1344,600 1347,650 1350,580 1353,620 1356,545 1359,630 1362,555 1365,610 1368,560 1371,640 1374,555 1377,650 1380,570 1383,620 1386,590 1389,650 1392,600 1395,690 1398,620 1401,670 1404,610 1407,680 1410,600 1413,650 1416,612 1419,670 1422,600 1425,680 1428,615 1431,660 1434,600 1437,650 1440,610 1443,690 1446,605 1449,660 1452,615 1455,680 1458,600 1461,650 1464,620 1467,680 1470,605 1473,660 1476,625 1479,690 1482,610 1485,660 1488,620 1491,675 1494,610 1497,650 1500,600 1503,640 1506,612 1509,670 1512,600 1515,660 1518,620 1521,680 1524,610 1527,660 1530,625 1533,675 1536,615 1539,660 1542,630 1545,610 1548,680 1551,625 1554,660 1557,612 1560,655 1563,628 1566,680 1569,615 1572,660 1575,625 1578,650 1581,612 1584,670 1587,630 1590,655 1593,620 1596,660 1599,630 1602,675 1605,620 1608,650 1611,640 1614,670 1617,625 1620,660 1623,650 1626,690 1629,640 1632,705 1635,650 1638,680 1641,635 1644,700 1647,660 1650,690 1653,640 1656,705 1659,650 1662,690 1665,640 1668,710 1671,650 1674,680 1677,640 1680,700 1683,650 1686,740 1689,630 1692,720 1695,650 1698,700 1701,625 1704,740 1707,660 1710,720 1713,640 1716,760 1719,630 1722,700 1725,650"/>
</g>
<path d="M1727,478V822" stroke="#000" stroke-width="2.5" stroke-dasharray="3 4"/>
<path d="M1204,477H1800M1204,822H1800M1204,476V823" fill="none" stroke="#000" stroke-width="2"/>
<path d="M1800,476V823" stroke="#ff0000" stroke-width="2"/>
<path d="M1204,511.5h6M1204,580.5h6M1204,649.5h6M1204,718.5h6M1204,787.5h6" stroke="#000" stroke-width="1.2"/>
<path d="M1800,563.25h-6M1800,649.5h-6M1800,735.75h-6" stroke="#ff0000" stroke-width="1.2"/>
<g stroke="#ff0000" stroke-width="1">
<use href="#mPr" transform="translate(1800,822) scale(-1,1)"/><use href="#mPr" transform="translate(1800,735.75) scale(-1,1)"/><use href="#mPr" transform="translate(1800,649.5) scale(-1,1)"/><use href="#mPr" transform="translate(1800,563.25) scale(-1,1)"/>
</g>
<use href="#xtR" y="822" stroke="#000" stroke-width="1.2"/>
<g font-size="19" text-anchor="end">
<text x="1199" y="518.5">0</text><text x="1199" y="587.5">−100</text><text x="1199" y="656.5">−200</text><text x="1199" y="725.5">−300</text><text x="1199" y="794.5">−400</text>
</g>
<g font-size="19" fill="#ff0000">
<text x="1806" y="484">10<tspan dy="-8" font-size="13.5">2</tspan></text>
<text x="1806" y="570.25">10<tspan dy="-8" font-size="13.5">1</tspan></text>
<text x="1806" y="656.5">10<tspan dy="-8" font-size="13.5">0</tspan></text>
<text x="1806" y="742.75">10<tspan dy="-8" font-size="13.5">−1</tspan></text>
<text x="1806" y="829">10<tspan dy="-8" font-size="13.5">−2</tspan></text>
</g>
<text transform="translate(1105,649.5) rotate(-90)" text-anchor="middle" font-size="23.6">Dst</text>
<text transform="translate(1133,649.5) rotate(-90)" text-anchor="middle" font-size="23.6">( nT )</text>
<text transform="translate(1872,649.5) rotate(-90)" text-anchor="middle" font-size="23.6" fill="#ff0000">SW Pressure</text>
<text transform="translate(1905,649.5) rotate(-90)" text-anchor="middle" font-size="23.6" fill="#ff0000">( nPa )</text>

<!-- Proton flux -->
<path d="M1204,930.5H1800" stroke="#000" stroke-width="1.6" stroke-dasharray="2 2.5"/>
<path d="M1727,845V1017" stroke="#000" stroke-width="2.5" stroke-dasharray="3 4"/>
<rect x="1204" y="844" width="596" height="173" fill="none" stroke="#000" stroke-width="2"/>
<path d="M1204,887.25h6M1204,930.5h6M1204,973.75h6M1800,887.25h-6M1800,930.5h-6M1800,973.75h-6" stroke="#000" stroke-width="1.2"/>
<g stroke="#000" stroke-width="1">
<use href="#mPt" x="1204" y="1017"/><use href="#mPt" x="1204" y="973.75"/><use href="#mPt" x="1204" y="930.5"/><use href="#mPt" x="1204" y="887.25"/>
<use href="#mPt" transform="translate(1800,1017) scale(-1,1)"/><use href="#mPt" transform="translate(1800,973.75) scale(-1,1)"/><use href="#mPt" transform="translate(1800,930.5) scale(-1,1)"/><use href="#mPt" transform="translate(1800,887.25) scale(-1,1)"/>
</g>
<use href="#xtR" y="1017" stroke="#000" stroke-width="1.2"/>
<g font-size="19" text-anchor="end">
<text x="1199" y="851">10<tspan dy="-8" font-size="13.5">3</tspan></text>
<text x="1199" y="894.25">10<tspan dy="-8" font-size="13.5">2</tspan></text>
<text x="1199" y="937.5">10<tspan dy="-8" font-size="13.5">1</tspan></text>
<text x="1199" y="980.75">10<tspan dy="-8" font-size="13.5">0</tspan></text>
<text x="1199" y="1024">10<tspan dy="-8" font-size="13.5">−1</tspan></text>
</g>
<text transform="translate(1106,930.5) rotate(-90)" text-anchor="middle" font-size="23.6">&gt;10 MeV Proton Flux</text>
<text transform="translate(1139,930.5) rotate(-90)" text-anchor="middle" font-size="23.6">( cm<tspan dy="-9" font-size="16">2</tspan><tspan dy="9"> s</tspan><tspan dy="-9" font-size="16">−1</tspan><tspan dy="9"> sr</tspan><tspan dy="-9" font-size="16">−1</tspan><tspan dy="9"> )</tspan></text>
<g font-size="19" text-anchor="middle">
<text x="1245" y="1037">13</text><text x="1319.5" y="1037">14</text><text x="1394" y="1037">15</text><text x="1468.5" y="1037">16</text><text x="1543" y="1037">17</text><text x="1617.5" y="1037">18</text><text x="1692" y="1037">19</text><text x="1766.5" y="1037">20</text>
</g>
<text x="1502" y="1064" font-size="23.6" text-anchor="middle">January 2025 (UT)</text>
</svg>
</body></html>
